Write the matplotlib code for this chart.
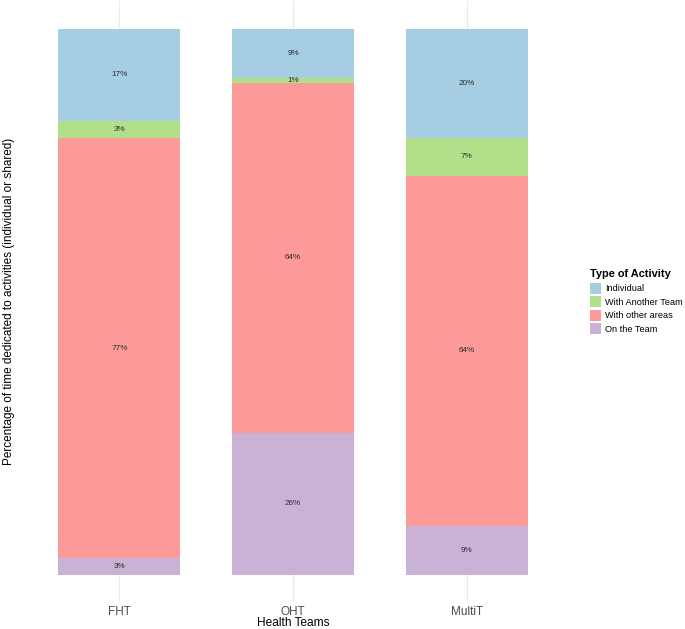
import numpy as np
import matplotlib
matplotlib.use("Agg")
import matplotlib.pyplot as plt
from matplotlib.patches import Patch

plt.rcParams["font.family"] = ["Liberation Sans", "DejaVu Sans"]

teams = ["FHT", "OHT", "MultiT"]
# stacked bottom -> top
activities = ["On the Team", "With other areas", "With Another Team", "Individual"]
on_team = [3, 26, 9]
other_areas = [77, 64, 64]
another_team = [3, 1, 7]
individual = [17, 9, 20]
legend_order = ["Individual", "With Another Team", "With other areas", "On the Team"]

colors = {
    "Individual": "#A6CEE3",
    "With Another Team": "#B2DF8A",
    "With other areas": "#FB9A99",
    "On the Team": "#CAB2D6",
}
series = [on_team, other_areas, another_team, individual]

fig = plt.figure(figsize=(6.85, 6.29), dpi=100)
ax = fig.add_axes([0.0219, 0.0429, 0.8117, 0.9551])

x = np.arange(1, len(teams) + 1)
bottom = np.zeros(len(teams))
for name, vals in zip(activities, series):
    vals = np.array(vals, dtype=float)
    ax.bar(x, vals, width=0.7, bottom=bottom, color=colors[name], zorder=2)
    for xi, b, v in zip(x, bottom, vals):
        ax.text(xi, b + v / 2, f"{int(v)}%", ha="center", va="center",
                fontsize=5.9, color="#2b2b2b", zorder=3)
    bottom += vals

ax.set_xlim(0.4, 3.6)
ax.set_ylim(-5, 105)
ax.set_xticks(x)
ax.set_xticklabels(teams, fontsize=8.5, color="#4D4D4D")
ax.set_yticks([])
for xi in x:
    ax.axvline(xi, color="#EBEBEB", lw=0.8, zorder=0)
ax.tick_params(axis="x", length=0, pad=3)
for s in ax.spines.values():
    s.set_visible(False)

ax.set_xlabel("Health Teams", fontsize=8.6, labelpad=-1)
fig.text(0.013, 0.521, "Percentage of time dedicated to activities (individual or shared)",
         rotation=90, ha="center", va="center", fontsize=8.5)

handles = [Patch(facecolor=colors[n], edgecolor="none") for n in legend_order]
leg = fig.legend(handles, legend_order,
                 title="Type of Activity", loc="upper left", bbox_to_anchor=(0.855, 0.58),
                 frameon=False, fontsize=6.6, title_fontsize=7.9, handlelength=1.2,
                 handleheight=1.45, handletextpad=0.45, labelspacing=0.28, borderpad=0)
leg.get_title().set_fontweight("bold")
leg._legend_box.align = "left"
leg._legend_box.sep = 3

fig.savefig("out.png", dpi=100)
